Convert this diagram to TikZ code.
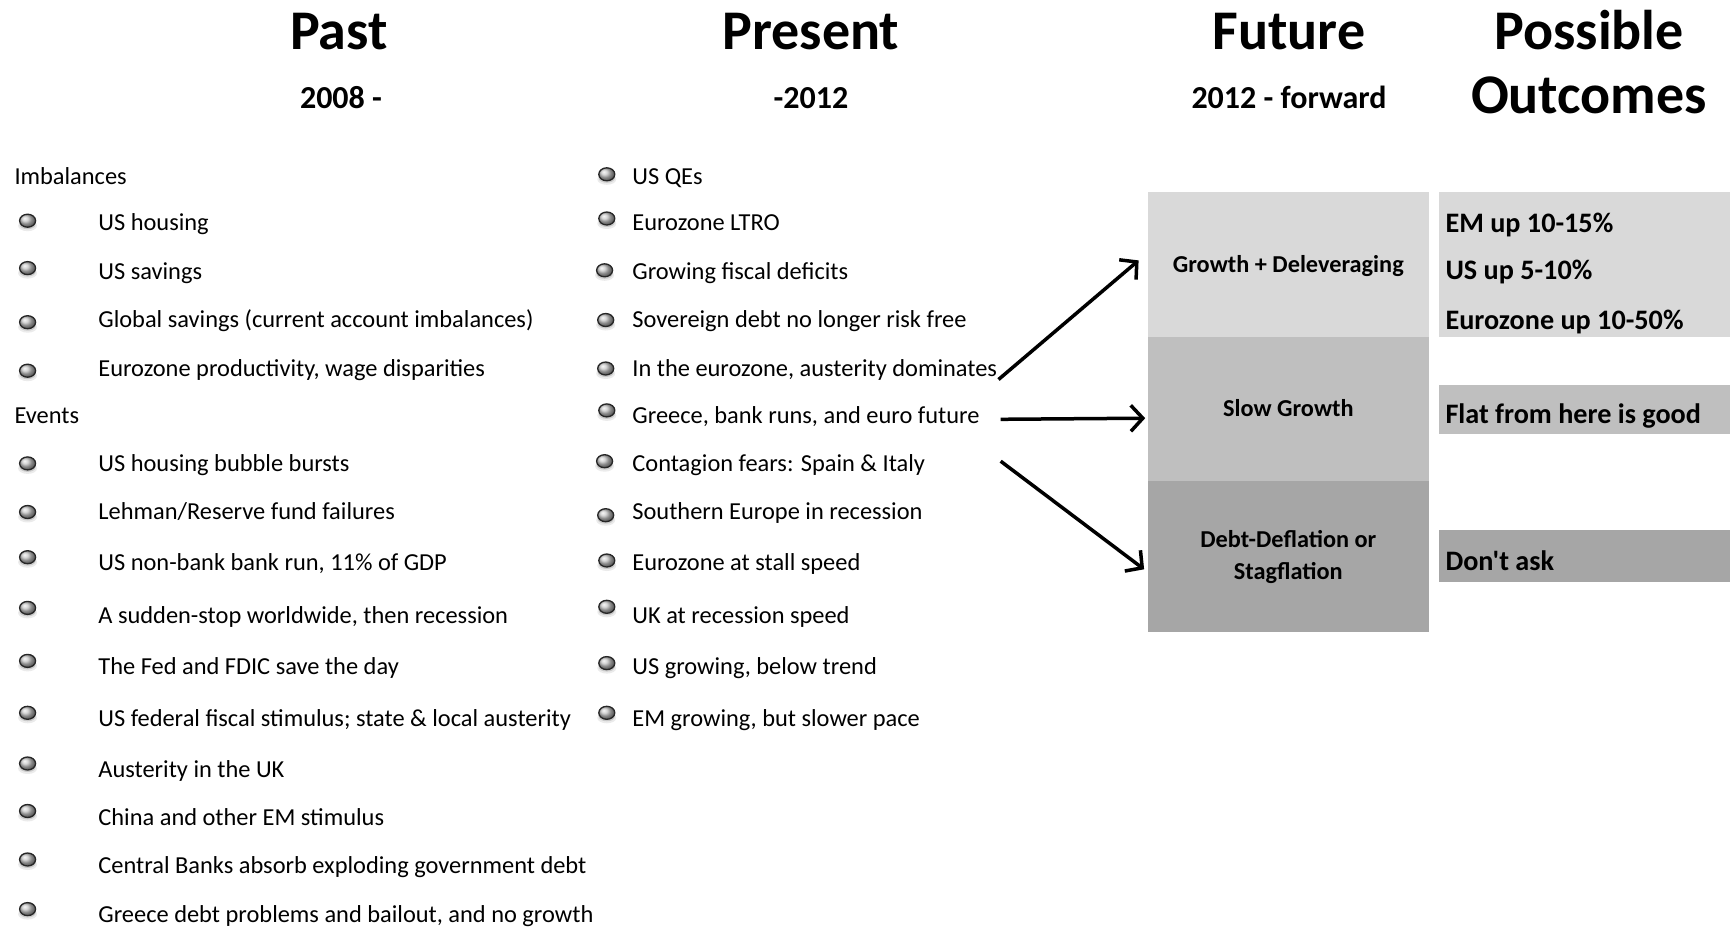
\documentclass[tikz,border=0pt]{standalone}
\usepackage{fontspec}
\setmainfont{Carlito}
\newfontfamily\plaincal{Carlito}
\usetikzlibrary{arrows.meta}
\definecolor{boxA}{HTML}{D9D9D9}
\definecolor{boxB}{HTML}{BFBFBF}
\definecolor{boxC}{HTML}{A6A6A6}
\tikzset{
  bodytext/.style={anchor=west, inner sep=0pt, text height=15.7pt, text depth=0pt, font=\fontsize{24.4}{29}\selectfont},
  headtext/.style={anchor=center, inner sep=0pt, text height=36pt, text depth=0pt, font=\bfseries\fontsize{56}{64}\selectfont},
  subtext/.style={anchor=center, inner sep=0pt, text height=20.5pt, text depth=0pt, font=\bfseries\fontsize{32}{38}\selectfont},
  futbox/.style={anchor=north west, inner sep=0pt, minimum width=281.3pt, align=center, font=\bfseries\fontsize{24.3}{32}\selectfont},
  outbox/.style={anchor=north west, inner sep=0pt, minimum width=291.3pt},
  outtext/.style={anchor=west, inner sep=0pt, text height=18.2pt, text depth=0pt, font=\bfseries\fontsize{28.2}{34}\selectfont},
  arr/.style={line width=3.5pt, -{Straight Barb[length=12pt,width=26pt]}},
  bulletpic/.pic={
    \fill[black, opacity=0.08] (0,5) ellipse (9.5 and 5.5);
    \fill[black, opacity=0.14] (0,4) ellipse (8 and 4.5);
    \shadedraw[ball color=black!22, draw=black!85, line width=1.3pt] (0,0) ellipse (8 and 6.5);
  }
}
\begin{document}
\begin{tikzpicture}[x=1pt,y=-1pt]
\useasboundingbox (0,0) rectangle (1730,927);

% headers
\node[headtext] (hpast) at (339,31) {Past};
\node[headtext] (hpres) at (811,31) {Present};
\node[headtext] (hfut) at (1289,31) {Future};
\node[headtext] (hposs) at (1589,31) {Possible};
\node[headtext] (hout) at (1589,95) {Outcomes};
\node[subtext] (spast) at (341,98.2) {2008 -};
\node[subtext] (spres) at (811,98.2) {-2012};
\node[subtext] (sfut) at (1289,98.2) {2012 - forward};

% left column
\node[bodytext] (imb) at (14.3,176.5) {Imbalances};
\node[bodytext] (l1) at (98.2,222.9) {US housing};
\node[bodytext] (l2) at (98.2,271.4) {US savings};
\node[bodytext] (l3) at (98.2,320) {Global savings (current account imbalances)};
\node[bodytext] (l4) at (98.2,368.5) {Eurozone productivity, wage disparities};
\node[bodytext] (ev) at (14.3,416) {Events};
\node[bodytext] (l5) at (98.2,463.4) {US housing bubble bursts};
\node[bodytext] (l6) at (98.2,512) {Lehman/Reserve fund failures};
\node[bodytext] (l7) at (98.2,562.7) {US non-bank bank run, 11\% of GDP};
\node[bodytext] (l8) at (98.2,615.6) {A sudden-stop worldwide, then recession};
\node[bodytext] (l9) at (98.2,666.4) {The Fed and FDIC save the day};
\node[bodytext] (l10) at (98.2,718.3) {US federal fiscal stimulus; state \& local austerity};
\node[bodytext] (l11) at (98.2,770.1) {Austerity in the UK};
\node[bodytext] (l12) at (98.2,817.5) {China and other EM stimulus};
\node[bodytext] (l13) at (98.2,866.1) {Central Banks absorb exploding government debt};
\node[bodytext] (l14) at (98.2,914.6) {Greece debt problems and bailout, and no growth};

\foreach \yy in {220.7,268.1,322.2,370.7,463.4,512,557.2,607.9,660.9,712.8,763.5,811,859.5,909.1}
  \pic at (27.6,\yy) {bulletpic};

% middle column
\node[bodytext] (m1) at (632.2,176.5) {US QEs};
\node[bodytext] (m2) at (632.2,222.9) {Eurozone LTRO};
\node[bodytext] (m3) at (632.2,271.4) {Growing fiscal deficits};
\node[bodytext] (m4) at (632.2,320) {Sovereign debt no longer risk free};
\node[bodytext] (m5) at (632.2,368.5) {In the eurozone, austerity dominates};
\node[bodytext] (m6) at (632.2,416) {Greece, bank runs, and euro future};
\node[bodytext] (m7) at (632.2,463.4) {Contagion fears: Spain \& Italy};
\node[bodytext] (m8) at (632.2,512) {Southern Europe in recession};
\node[bodytext] (m9) at (632.2,562.7) {Eurozone at stall speed};
\node[bodytext] (m10) at (632.2,615.6) {UK at recession speed};
\node[bodytext] (m11) at (632.2,666.4) {US growing, below trend};
\node[bodytext] (m12) at (632.2,718.3) {EM growing, but slower pace};

\foreach \xx/\yy in {606.8/174.3,606.8/218.5,604.6/270.3,605.7/320,605.7/368.5,606.8/410.4,604.6/461.2,605.7/515.2,606.8/560.5,606.8/606.8,606.8/663.1,606.8/712.8}
  \pic at (\xx,\yy) {bulletpic};

% future boxes
\node[futbox, fill=boxA, minimum height=144.5pt, text height=15.6pt, text depth=0pt] (f1) at (1147.5,192) {Growth + Deleveraging};
\node[futbox, fill=boxB, minimum height=144.5pt, text height=15.6pt, text depth=0pt] (f2) at (1147.5,336.5) {Slow Growth};
\node[futbox, fill=boxC, minimum height=151.2pt] (f3) at (1147.5,481) {Debt-Deflation or\\Stagflation};

% outcome boxes
\node[outbox, fill=boxA, minimum height=144.5pt] (o1) at (1438.7,192) {};
\node[outbox, fill=boxB, minimum height=48.6pt] (o2) at (1438.7,385) {};
\node[outbox, fill=boxC, minimum height=51.8pt] (o3) at (1438.7,529.6) {};
\node[outtext] (t1) at (1445.3,222.9) {EM up 10-15\%};
\node[outtext] (t2) at (1445.3,270.3) {US up 5-10\%};
\node[outtext] (t3) at (1445.3,320) {Eurozone up 10-50\%};
\node[outtext] (t4) at (1445.3,414.8) {Flat from here is good};
\node[outtext] (t5) at (1445.3,561.6) {\plaincal Don't ask};

% arrows
\coordinate (a1s) at (998.5,379.5);
\coordinate (a1e) at (1138.6,260.4);
\coordinate (a2s) at (1000.7,419.3);
\coordinate (a2e) at (1145.2,418.2);
\coordinate (a3s) at (1000.7,461.2);
\coordinate (a3e) at (1144.1,569.3);
\draw[arr] (a1s) -- (a1e);
\draw[arr] (a2s) -- (a2e);
\draw[arr] (a3s) -- (a3e);
\end{tikzpicture}
\end{document}
